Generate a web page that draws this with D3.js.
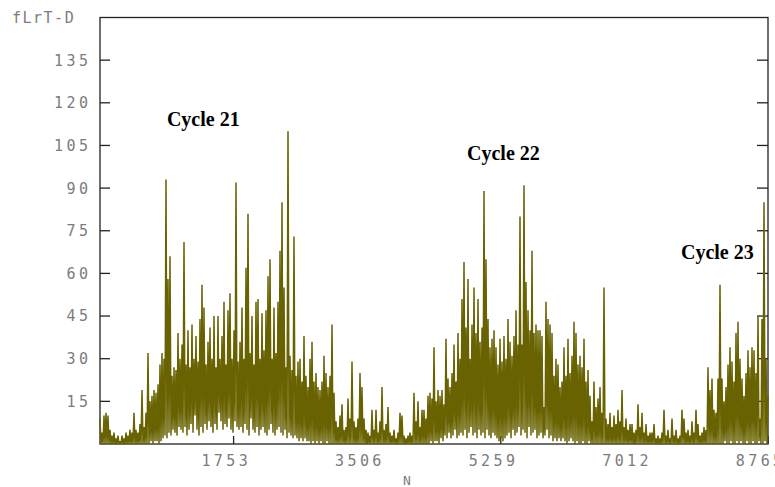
<!DOCTYPE html>
<html>
<head>
<meta charset="utf-8">
<script src="https://cdn.jsdelivr.net/npm/d3@7"></script>
<style>
  body { margin: 0; background: #fff; }
  svg { display: block; }
</style>
</head>
<body>
<div id="container"></div>
<script>
// daily series at 2px steps: column maxima and the minima between them
const nDays = 8765

const peaks = [
  9, 4, 10, 11, 10, 5, 3, 4, 2, 3,
  1, 3, 2, 4, 3, 5, 4, 11, 5, 4,
  7, 19, 6, 11, 32, 15, 17, 19, 18, 21,
  28, 32, 30, 93, 58, 66, 24, 27, 26, 39,
  30, 35, 71, 28, 40, 27, 42, 30, 38, 29,
  44, 56, 48, 28, 36, 41, 30, 45, 27, 45,
  30, 38, 50, 28, 47, 53, 30, 40, 92, 29,
  36, 48, 30, 62, 81, 32, 45, 28, 50, 51,
  30, 46, 33, 47, 59, 65, 30, 48, 32, 50,
  68, 85, 55, 27, 110, 31, 26, 73, 24, 29,
  30, 22, 38, 24, 20, 30, 36, 22, 25, 20,
  19, 22, 31, 25, 20, 24, 42, 18, 8, 6,
  10, 14, 5, 6, 16, 9, 29, 8, 6, 9,
  25, 20, 9, 5, 4, 3, 12, 5, 12, 4,
  8, 20, 5, 7, 13, 4, 3, 5, 2, 4,
  11, 10, 3, 2, 3, 4, 3, 18, 8, 15,
  6, 12, 12, 9, 17, 18, 16, 34, 15, 19,
  17, 19, 14, 37, 23, 20, 25, 35, 22, 39,
  30, 51, 64, 41, 58, 30, 42, 55, 39, 51,
  36, 41, 89, 65, 44, 34, 37, 40, 34, 28,
  37, 29, 38, 30, 44, 36, 31, 38, 47, 35,
  80, 35, 91, 57, 47, 40, 68, 39, 42, 40,
  40, 38, 13, 50, 44, 42, 39, 24, 30, 28,
  20, 22, 34, 24, 37, 25, 31, 43, 39, 28,
  31, 27, 37, 22, 26, 17, 8, 22, 13, 16,
  20, 11, 55, 9, 7, 11, 6, 10, 7, 12,
  8, 19, 6, 9, 5, 7, 7, 4, 5, 14,
  6, 11, 4, 7, 3, 4, 4, 7, 2, 3,
  2, 4, 12, 3, 5, 2, 9, 3, 5, 2,
  3, 12, 9, 4, 5, 3, 8, 4, 12, 7,
  3, 4, 6, 5, 27, 19, 23, 12, 11, 23,
  56, 23, 15, 20, 28, 34, 29, 22, 39, 43,
  30, 23, 17, 25, 33, 27, 34, 33, 25, 45,
  9, 44, 85, 30, 17
]

const troughs = [
  0, 0, 0, 0, 0, 0, 0, 0, 0, 0,
  0, 0, 0, 0, 0, 0, 0, 0, 0, 0,
  0, 0, 0, 0, 0, 1, 0, 1, 1, 0,
  1, 2, 3, 2, 4, 3, 5, 4, 3, 6,
  5, 4, 6, 3, 5, 7, 4, 10, 5, 3,
  6, 4, 7, 5, 8, 6, 4, 7, 5, 11,
  8, 5, 7, 6, 9, 5, 4, 8, 6, 5,
  6, 4, 7, 5, 3, 9, 5, 4, 6, 3,
  5, 6, 4, 3, 5, 7, 4, 3, 5, 6,
  4, 3, 5, 2, 4, 3, 2, 3, 2, 1,
  2, 1, 2, 1, 1, 0, 1, 0, 1, 0,
  1, 0, 0, 1, 0, 0, 0, 0, 0, 0,
  0, 0, 0, 0, 0, 0, 0, 0, 0, 0,
  0, 0, 0, 0, 0, 0, 0, 0, 0, 0,
  0, 0, 0, 0, 0, 0, 0, 0, 0, 0,
  0, 0, 0, 0, 0, 0, 0, 0, 0, 0,
  0, 0, 0, 0, 0, 1, 0, 1, 1, 0,
  2, 1, 3, 2, 4, 2, 3, 5, 2, 3,
  4, 3, 5, 2, 4, 6, 3, 4, 2, 5,
  3, 4, 2, 5, 3, 2, 4, 3, 2, 1,
  2, 1, 2, 3, 4, 2, 5, 3, 4, 6,
  3, 5, 4, 2, 6, 3, 4, 5, 2, 3,
  4, 2, 3, 5, 2, 3, 1, 2, 1, 2,
  1, 2, 1, 0, 1, 2, 1, 0, 1, 0,
  0, 1, 0, 0, 1, 0, 0, 0, 0, 0,
  0, 0, 0, 0, 0, 0, 0, 0, 0, 0,
  0, 0, 0, 0, 0, 0, 0, 0, 0, 0,
  0, 0, 0, 0, 0, 0, 0, 0, 0, 0,
  0, 0, 0, 0, 0, 0, 0, 0, 0, 0,
  0, 0, 0, 0, 0, 0, 0, 0, 0, 0,
  0, 0, 0, 0, 0, 0, 0, 0, 0, 0,
  0, 0, 1, 0, 0, 1, 0, 0, 1, 0,
  1, 0, 0, 1, 0, 0, 1, 0, 0, 1,
  0, 0, 1, 0
]

const xTicks = [1753, 3506, 5259, 7012, 8765]
const yTicks = [15, 30, 45, 60, 75, 90, 105, 120, 135]

const cycles = [
  { name: "Cycle 21", day: 878, value: 112 },
  { name: "Cycle 22", day: 4816, value: 100 },
  { name: "Cycle 23", day: 7623, value: 65 }
]

const width = 775
const height = 487
const mLeft = 100, mRight = 768, mTop = 17.5, mBottom = 444

const x = d3.scaleLinear().domain([0, nDays]).range([mLeft, mRight])
const y = d3.scaleLinear().domain([0, 150]).range([mBottom, mTop])

const step = nDays / (peaks.length - 1)
const series = []
peaks.forEach((v, i) => {
  series.push({ day: i * step, v: v })
  if (i < troughs.length) series.push({ day: (i + 0.5) * step, v: troughs[i] })
})

const svg = d3.create("svg")
  .attr("width", width)
  .attr("height", height)

const tickFont = "'DejaVu Sans Mono', monospace"
const ls = 3.4

// frame
svg.append("rect")
  .attr("x", mLeft).attr("y", mTop)
  .attr("width", mRight - mLeft).attr("height", mBottom - mTop)
  .attr("fill", "none")
  .attr("stroke", "#222")
  .attr("stroke-width", 1.3)

// y ticks, inward on both sides
const yg = svg.append("g")
yg.selectAll(".yl")
  .data(yTicks)
  .enter()
  .append("line")
  .attr("class", "yl")
  .attr("x1", mLeft).attr("x2", mLeft + 10)
  .attr("y1", d => y(d)).attr("y2", d => y(d))
  .attr("stroke", "#222").attr("stroke-width", 1.3)
yg.selectAll(".yr")
  .data(yTicks)
  .enter()
  .append("line")
  .attr("class", "yr")
  .attr("x1", mRight - 11).attr("x2", mRight)
  .attr("y1", d => y(d)).attr("y2", d => y(d))
  .attr("stroke", "#222").attr("stroke-width", 1.3)
yg.selectAll("text")
  .data(yTicks)
  .enter()
  .append("text")
  .attr("x", 88 + ls)
  .attr("y", d => y(d))
  .attr("dy", "0.36em")
  .attr("text-anchor", "end")
  .style("font-family", tickFont)
  .style("font-size", "15px")
  .style("letter-spacing", ls + "px")
  .attr("fill", "#7c7c7c")
  .text(d => d)

// x ticks
const xg = svg.append("g")
xg.selectAll("line")
  .data(xTicks)
  .enter()
  .append("line")
  .attr("x1", d => x(d)).attr("x2", d => x(d))
  .attr("y1", mBottom).attr("y2", mBottom - 8)
  .attr("stroke", "#222").attr("stroke-width", 1.3)
xg.selectAll("text")
  .data(xTicks)
  .enter()
  .append("text")
  .attr("x", d => x(d) - 9 + ls / 2)
  .attr("y", 466)
  .attr("text-anchor", "middle")
  .style("font-family", tickFont)
  .style("font-size", "15px")
  .style("letter-spacing", ls + "px")
  .attr("fill", "#7c7c7c")
  .text(d => d)

// axis titles
svg.append("text")
  .attr("x", 12).attr("y", 23)
  .style("font-family", tickFont)
  .style("font-size", "15px")
  .style("letter-spacing", "1.5px")
  .attr("fill", "#7c7c7c")
  .text("fLrT-D")

svg.append("text")
  .attr("x", 407).attr("y", 485)
  .attr("text-anchor", "middle")
  .style("font-family", tickFont)
  .style("font-size", "13px")
  .attr("fill", "#7c7c7c")
  .text("N")

// data line
const line = d3.line()
  .x(d => x(d.day))
  .y(d => y(d.v))

svg.append("path")
  .datum(series)
  .attr("d", line)
  .attr("fill", "none")
  .attr("stroke", "#686200")
  .attr("stroke-width", 1.5)
  .attr("stroke-linejoin", "bevel")

// cycle labels
svg.selectAll(".cycle")
  .data(cycles)
  .enter()
  .append("text")
  .attr("class", "cycle")
  .attr("x", d => x(d.day))
  .attr("y", d => y(d.value))
  .style("font-family", "'Liberation Serif', 'Times New Roman', serif")
  .style("font-weight", "bold")
  .style("font-size", "20px")
  .attr("fill", "#000")
  .text(d => d.name)

document.querySelector("#container").appendChild(svg.node())
</script>
</body>
</html>
